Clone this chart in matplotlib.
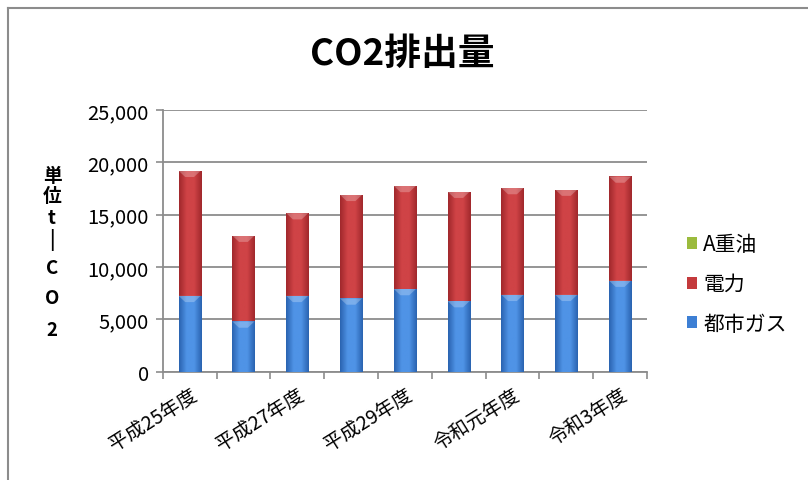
import matplotlib
matplotlib.use("Agg")
import matplotlib.pyplot as plt
import numpy as np
from matplotlib.lines import Line2D
from matplotlib.colors import LinearSegmentedColormap

plt.rcParams['font.family'] = ['Noto Sans CJK JP', 'DejaVu Sans']

categories = ['平成25年度', '平成26年度', '平成27年度', '平成28年度', '平成29年度',
              '平成30年度', '令和元年度', '令和2年度', '令和3年度']
city_gas = [7250, 4800, 7250, 7000, 7900, 6750, 7350, 7350, 8700]
electricity = [11950, 8200, 7900, 9900, 9850, 10450, 10200, 10050, 9950]
heavy_oil_a = [0, 0, 0, 0, 0, 0, 0, 0, 0]
series_names = ['都市ガス', '電力', 'A重油']
yticks = [0, 5000, 10000, 15000, 20000, 25000]

W, H = 808, 481
fig = plt.figure(figsize=(W / 100, H / 100), dpi=100)
ax = fig.add_axes([162.7 / W, 1 - 372.7 / H, (647 - 162.7) / W, (372.7 - 111) / H])

x = np.arange(len(categories))
width = 0.41
colors = {
    '都市ガス': ('#2a63b0', '#4f93e6'),
    '電力': ('#a0282c', '#cf4346'),
    'A重油': ('#7d9a2e', '#a8c84e'),
}
legend_colors = {'都市ガス': '#3d7fd4', '電力': '#c43a3c', 'A重油': '#9bbb3d'}

bottom = np.zeros(len(categories))
for name, vals in zip(series_names, [city_gas, electricity, heavy_oil_a]):
    vals = np.array(vals, dtype=float)
    dark, light = colors[name]
    cmap = LinearSegmentedColormap.from_list(name, [dark, light, light, dark])
    bars = ax.bar(x, vals, width, bottom=bottom, color=legend_colors[name],
                  edgecolor='none', label=name, zorder=3)
    for b in bars:
        if b.get_height() <= 0:
            continue
        bx, by = b.get_x(), b.get_y()
        bw, bh = b.get_width(), b.get_height()
        grad = np.linspace(0, 1, 64).reshape(1, -1)
        im = ax.imshow(grad, cmap=cmap, extent=[bx, bx + bw, by, by + bh],
                       aspect='auto', zorder=3.5, interpolation='bilinear')
        im.set_clip_path(b)
        th = min(bh, 600)
        tri = plt.Polygon([[bx, by + bh], [bx + bw, by + bh],
                           [bx + bw * 0.7, by + bh - th], [bx + bw * 0.3, by + bh - th]],
                          closed=True, facecolor='white', edgecolor='none', alpha=0.25, zorder=4)
        ax.add_patch(tri)
    bottom += vals

ax.set_xlim(-0.5, len(categories) - 0.5)
ax.set_ylim(0, 25000)
ax.set_yticks(yticks)
ax.set_yticklabels([f'{v:,}' for v in yticks], fontsize=14.5)
ax.yaxis.grid(True, color='#8c8c8c', linewidth=1.3, zorder=0)
ax.set_axisbelow(True)

ax.set_xticks(x[::2])
ax.set_xticklabels(categories[::2], rotation=32, ha='right', rotation_mode='anchor', fontsize=14)
ax.tick_params(axis='x', length=0, pad=9)
ax.set_xticks(np.arange(len(categories) + 1) - 0.5, minor=True)
ax.tick_params(axis='x', which='minor', length=5, color='#8c8c8c', width=1.2)
ax.tick_params(axis='y', length=5, color='#8c8c8c', width=1.2, pad=5)

for s in ['top', 'right']:
    ax.spines[s].set_visible(False)
for s in ['left', 'bottom']:
    ax.spines[s].set_color('#8c8c8c')
    ax.spines[s].set_linewidth(1.3)

fig.text(402 / W, 1 - 55 / H, 'CO2排出量', fontsize=26.5, fontweight='bold',
         ha='center', va='center')

ylabel_chars = ['単', '位', 't', '|', 'C', 'O', '2']
ylabel_y = [176, 197, 218, 240, 268, 298, 330]
for ch, yy in zip(ylabel_chars, ylabel_y):
    fig.text(52 / W, 1 - yy / H, ch, fontsize=13.5, fontweight='bold',
             ha='center', va='center')

handles = [plt.Rectangle((0, 0), 1, 1, facecolor=legend_colors[n]) for n in series_names[::-1]]
leg = fig.legend(handles, series_names[::-1], loc='center left',
                 bbox_to_anchor=(668 / W, 1 - 285 / H), frameon=False,
                 fontsize=15, handlelength=0.5, handleheight=0.5,
                 handletextpad=0.3, labelspacing=0.85)

fig.add_artist(Line2D([8 / W, 8 / W], [0, 1 - 9 / H], color='#8c8c8c', linewidth=1.5))
fig.add_artist(Line2D([8 / W, 1], [1 - 9 / H, 1 - 9 / H], color='#8c8c8c', linewidth=1.5))

fig.savefig('out.png', dpi=100)
